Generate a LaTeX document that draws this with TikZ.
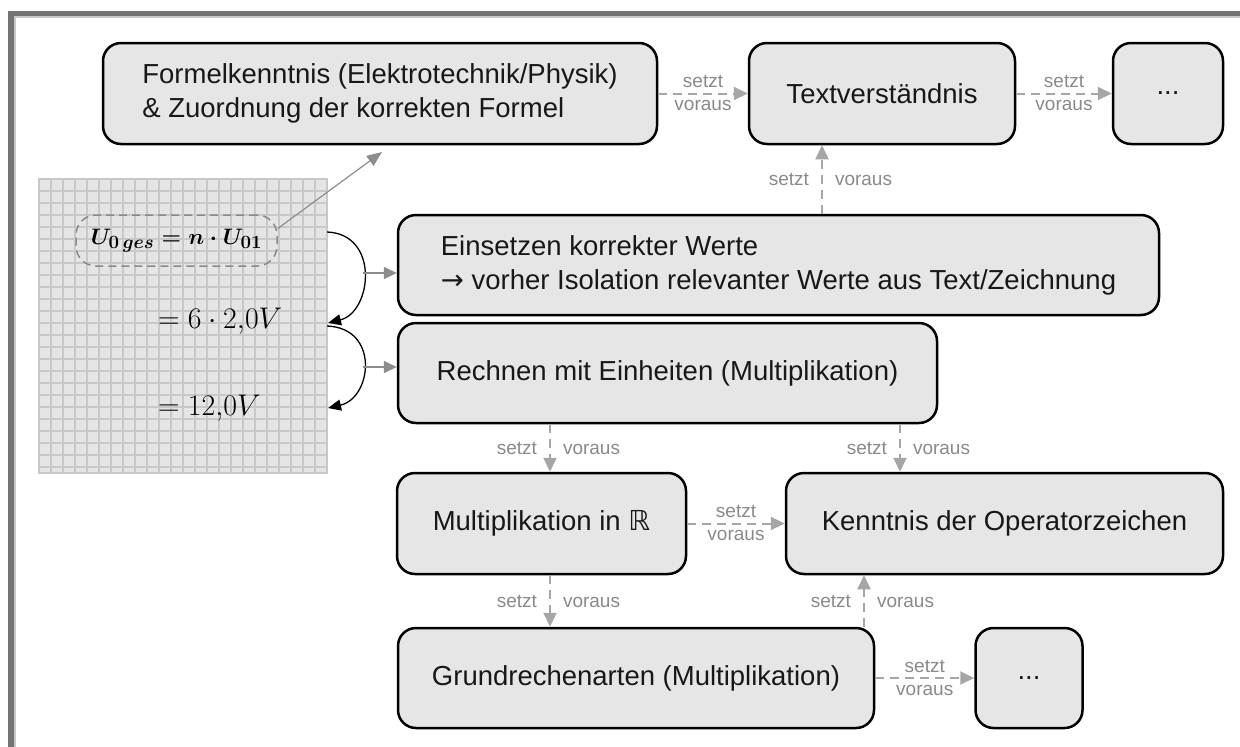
\documentclass[tikz,border=0pt]{standalone}
\usepackage{graphicx}
\usepackage{amsmath,amssymb}
\usepackage[no-math]{fontspec}
\setmainfont{Liberation Sans}
\newfontfamily\djv{DejaVu Sans}
\usetikzlibrary{arrows.meta,calc}
\definecolor{boxfill}{HTML}{E6E6E6}
\definecolor{txt}{HTML}{181818}
\definecolor{arrgray}{HTML}{A6A6A6}
\definecolor{lblgray}{HTML}{8A8A8A}
\definecolor{framedark}{HTML}{737373}
\definecolor{framelight}{HTML}{C8C8C8}
\definecolor{gridfill}{HTML}{E5E5E5}
\definecolor{gridline}{HTML}{C8C8C8}
\definecolor{ptrgray}{HTML}{8C8C8C}
\begin{document}
\begin{tikzpicture}[x=1pt,y=-1pt,
  box/.style={draw=black, line width=2.5pt, fill=boxfill, rounded corners=18pt,
    inner sep=0pt, font=\fontsize{27.5}{34}\selectfont, text=txt, align=left},
  dep/.style={draw=arrgray, line width=2pt, dash pattern=on 9pt off 6pt,
    -{Triangle[length=14pt,width=13pt]}},
  lbl/.style={font=\fontsize{19}{20}\selectfont, text=lblgray, inner sep=0pt},
  mathtxt/.style={font=\fontsize{24.88}{27}\selectfont, inner sep=0pt, text=black},
  eqtxt/.style={font=\fontsize{24.88}{27}\selectfont, text=black},
  curvearr/.style={draw=black, line width=1.3pt, -{Triangle[length=13pt,width=11pt]}},
  ptr/.style={draw=ptrgray, line width=2pt, -{Triangle[length=13pt,width=12pt]}},
  thinptr/.style={draw=ptrgray, line width=1.2pt, -{Triangle[length=15pt,width=12pt]}},
  gline/.style={draw=gridline, line width=1.5pt}
]
\useasboundingbox (0,0) rectangle (1240,747);
\fill[white] (0,0) rectangle (1240,747);
% frame
\fill[framedark] (8,11) rectangle (1240,16);
\fill[framedark] (8,11) rectangle (14,747);
\fill[framelight] (14,16) rectangle (1240,17.5);
\fill[framelight] (14,16) rectangle (16,747);

% grid panel
\fill[gridfill] (39,179) rectangle (327,473);
\begin{scope}
  \clip (39,179) rectangle (327,473);
  \foreach \i in {0,...,24} \draw[gline] (39+12*\i,179) -- (39+12*\i,473);
  \foreach \j in {0,...,25} \draw[gline] (39,179+12*\j) -- (327,179+12*\j);
\end{scope}
\draw[gline] (39,179) rectangle (327,473);

% formula nodes
\node[draw=lblgray, line width=1.5pt, dash pattern=on 8pt off 5pt, rounded corners=20pt,
  minimum width=201pt, minimum height=51pt, inner sep=0pt, eqtxt] (eq1) at (176.5,240.5)
  {\scalebox{0.9}{$\boldsymbol{U_{0\,ges}=n\cdot U_{01}}$}};
\node[mathtxt, anchor=west] (eq2) at (158,321) {\scalebox{1.2}{$=6\cdot2{,}0V$}};
\node[mathtxt, anchor=west] (eq3) at (158,408) {\scalebox{1.2}{$=12{,}0V$}};

% boxes
\node[box, minimum width=554pt, minimum height=101pt] (formel) at (380,93.5)
  {Formelkenntnis (Elektrotechnik/Physik)\\\& Zuordnung der korrekten Formel};
\node[box, minimum width=266pt, minimum height=101pt] (textv) at (882,93.5) {Textverständnis};
\node[box, minimum width=110pt, minimum height=101pt] (dots1) at (1168,93.5) {...};
\node[box, minimum width=761pt, minimum height=100pt] (einsetzen) at (778.5,265)
  {Einsetzen korrekter Werte\\{\djv →} vorher Isolation relevanter Werte aus Text/Zeichnung};
\node[box, minimum width=539pt, minimum height=100pt] (rechnen) at (667.5,373)
  {Rechnen mit Einheiten (Multiplikation)};
\node[box, minimum width=289pt, minimum height=101pt] (mult) at (541.5,523.5)
  {Multiplikation in {\djv ℝ}};
\node[box, minimum width=437pt, minimum height=101pt] (kenntnis) at (1004.5,523.5)
  {Kenntnis der Operatorzeichen};
\node[box, minimum width=476pt, minimum height=100pt] (grund) at (636,678)
  {Grundrechenarten (Multiplikation)};
\node[box, minimum width=107pt, minimum height=100pt] (dots2) at (1029,678) {...};

% coordinates
\coordinate (fa) at (382,152);
\coordinate (c1s) at (327,232);
\coordinate (c1e) at (328,323);
\coordinate (c2s) at (327,326);
\coordinate (c2e) at (328,408);
\coordinate (a1) at (363,273);
\coordinate (a2) at (363,367);
\coordinate (v1) at (822,0);
\coordinate (v2) at (550,0);
\coordinate (v3) at (900,0);
\coordinate (v4) at (864,0);

% formula links
\draw[thinptr] ($(eq1.east)+(0,-12)$) -- (fa);
\draw[curvearr] (c1s) .. controls (380,234) and (372,312) .. (c1e);
\draw[curvearr] (c2s) .. controls (380,328) and (372,398) .. (c2e);
\draw[ptr] (a1) -- (a1 -| einsetzen.west);
\draw[ptr] (a2) -- (a2 -| rechnen.west);

% horizontal dependencies
\draw[dep] (formel.east) -- (textv.west)
  node[midway, lbl, anchor=base, yshift=6pt] {setzt}
  node[midway, lbl, anchor=base, yshift=-17pt] {voraus};
\draw[dep] (textv.east) -- (dots1.west)
  node[midway, lbl, anchor=base, yshift=6pt] {setzt}
  node[midway, lbl, anchor=base, yshift=-17pt] {voraus};
\draw[dep] (mult.east) -- (kenntnis.west)
  node[midway, lbl, anchor=base, yshift=6pt] {setzt}
  node[midway, lbl, anchor=base, yshift=-17pt] {voraus};
\draw[dep] (grund.east) -- (dots2.west)
  node[midway, lbl, anchor=base, yshift=6pt] {setzt}
  node[midway, lbl, anchor=base, yshift=-17pt] {voraus};

% vertical dependencies
\draw[dep] (v1 |- einsetzen.north) -- (v1 |- textv.south)
  node[midway, lbl, anchor=base east, xshift=-12pt, yshift=-6pt] {setzt}
  node[midway, lbl, anchor=base west, xshift=12pt, yshift=-6pt] {voraus};
\draw[dep] (v2 |- rechnen.south) -- (v2 |- mult.north)
  node[midway, lbl, anchor=base east, xshift=-12pt, yshift=-6pt] {setzt}
  node[midway, lbl, anchor=base west, xshift=12pt, yshift=-6pt] {voraus};
\draw[dep] (v3 |- rechnen.south) -- (v3 |- kenntnis.north)
  node[midway, lbl, anchor=base east, xshift=-12pt, yshift=-6pt] {setzt}
  node[midway, lbl, anchor=base west, xshift=12pt, yshift=-6pt] {voraus};
\draw[dep] (v2 |- mult.south) -- (v2 |- grund.north)
  node[midway, lbl, anchor=base east, xshift=-12pt, yshift=-6pt] {setzt}
  node[midway, lbl, anchor=base west, xshift=12pt, yshift=-6pt] {voraus};
\draw[dep] (v4 |- grund.north) -- (v4 |- kenntnis.south)
  node[midway, lbl, anchor=base east, xshift=-12pt, yshift=-6pt] {setzt}
  node[midway, lbl, anchor=base west, xshift=12pt, yshift=-6pt] {voraus};
\end{tikzpicture}
\end{document}
